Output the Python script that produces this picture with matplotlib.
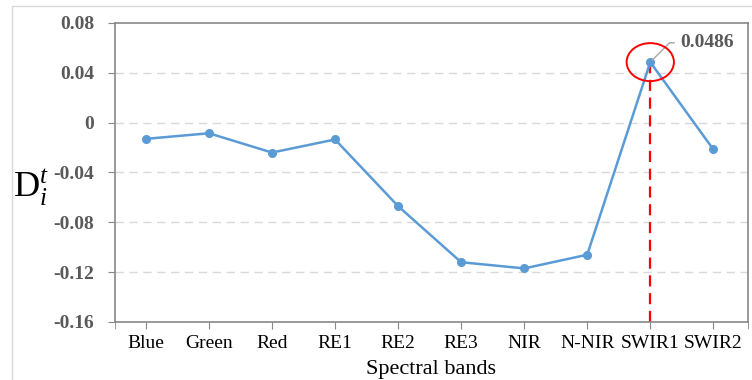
import matplotlib
matplotlib.use('Agg')
import matplotlib.pyplot as plt
from matplotlib.patches import Ellipse, Rectangle

# data
bands = ['Blue', 'Green', 'Red', 'RE1', 'RE2', 'RE3', 'NIR', 'N-NIR', 'SWIR1', 'SWIR2']
d_values = [-0.013, -0.0085, -0.024, -0.0135, -0.067, -0.112, -0.117, -0.106, 0.0486, -0.0215]
y_ticks = [0.08, 0.04, 0, -0.04, -0.08, -0.12, -0.16]
y_tick_labels = ['0.08', '0.04', '0', '-0.04', '-0.08', '-0.12', '-0.16']
peak_idx = 8

plt.rcParams['font.family'] = ['Liberation Serif', 'DejaVu Serif']
plt.rcParams['mathtext.fontset'] = 'custom'
plt.rcParams['mathtext.rm'] = 'Liberation Serif'
plt.rcParams['mathtext.it'] = 'Liberation Serif:italic'

fig = plt.figure(figsize=(7.52, 3.8), dpi=100)
ax = fig.add_axes([115/752, 1 - 322/380, (748 - 115)/752, (322 - 23)/380])

# light outer border of the chart area
fig.patches.append(Rectangle((12/752, -0.1), 1.1, 1.1 - 6/380, transform=fig.transFigure,
                             fill=False, edgecolor='#d9d9d9', linewidth=1.0))

x = list(range(len(bands)))
ax.plot(x, d_values, color='#5b9bd5', linewidth=1.8, marker='o', markersize=5.5, zorder=3)

ax.set_xlim(-0.49, 9.55)
ax.set_ylim(-0.16, 0.08)
ax.set_yticks(y_ticks)
ax.set_yticklabels(y_tick_labels, fontsize=14, fontweight='bold', color='#595959')
ax.set_xticks(x)
ax.set_xticklabels(bands, fontsize=14, color='black')
ax.set_xticks([-0.49, 9.55], minor=True)
ax.tick_params(axis='x', which='both', direction='out', length=5, color='#888888', pad=4)
ax.tick_params(axis='y', direction='out', length=5, color='#888888', pad=10)

for s in ax.spines.values():
    s.set_color('#888888')
    s.set_linewidth(1.2)

for yv in y_ticks[1:-1]:
    ax.axhline(yv, color='#d9d9d9', linestyle=(0, (6, 4)), linewidth=1.0, zorder=1)

ax.set_xlabel('Spectral bands', fontsize=16, labelpad=6)
ax.set_ylabel(r'$\mathrm{D}_i^t$', fontsize=26, rotation=0, labelpad=12)
ax.yaxis.set_label_coords(-0.133, 0.38)

# highlight the SWIR1 peak
px, py = x[peak_idx], d_values[peak_idx]
ax.plot([px, px], [-0.16, py], color='red', linestyle=(0, (5, 3)), linewidth=1.6, zorder=2)
ax.add_patch(Ellipse((px, py), 0.75, 0.0305, fill=False, edgecolor='red', linewidth=1.4, zorder=4))
ax.annotate('%.4f' % py, xy=(px, py), xytext=(px + 0.47, py + 0.0155),
            fontsize=14, fontweight='bold', color='#595959', va='center',
            arrowprops=dict(arrowstyle='-', color='#a6a6a6', linewidth=1.0,
                            connectionstyle='angle,angleA=0,angleB=45', shrinkA=2, shrinkB=2))

fig.savefig('out.png', dpi=100)
